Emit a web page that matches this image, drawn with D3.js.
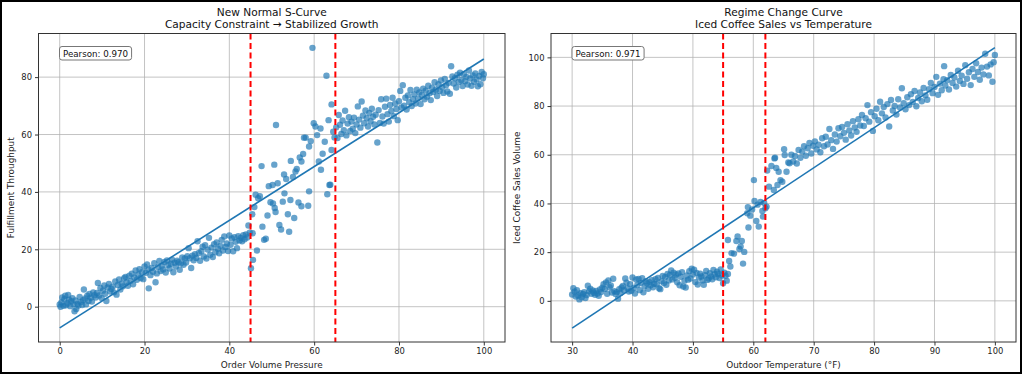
<!DOCTYPE html>
<html><head><meta charset="utf-8">
<script src="https://cdn.jsdelivr.net/npm/d3@7"></script>
<style>body{margin:0;background:#fff;} svg{display:block;font-family:"DejaVu Sans",sans-serif;}</style>
</head><body><svg id="c" width="1022" height="375"></svg>
<script>
// ---------- DATA ----------
const leftTitle = ["New Normal S-Curve", "Capacity Constraint \u2192 Stabilized Growth"];
const leftXLabel = "Order Volume Pressure";
const leftYLabel = "Fulfillment Throughput";
const leftPearson = "Pearson: 0.970";
const leftXTicks = [0, 20, 40, 60, 80, 100];
const leftYTicks = [0, 20, 40, 60, 80];
const leftBreaks = [45, 65];
const leftFit = [[0, -7.4], [100, 86.3]];
const leftPoints = [
[0.0,0.8],[0.2,0.0],[0.4,1.5],[0.6,3.2],[0.9,0.3],[1.1,2.6],[1.3,3.8],[1.5,0.5],[1.8,1.2],[2.0,4.1],
[2.2,2.4],[2.5,0.2],[2.7,1.9],[3.0,3.0],[3.2,0.9],[3.5,-1.6],[3.7,2.2],[3.9,-0.8],[4.2,1.0],[4.4,0.4],
[4.7,3.4],[5.0,1.6],[5.3,0.6],[5.5,2.3],[5.7,6.0],[6.0,2.9],[6.2,0.8],[6.5,3.8],[6.8,2.0],[7.0,4.4],
[7.3,3.1],[7.6,1.8],[7.9,5.0],[8.2,4.0],[8.5,3.2],[8.8,4.8],[9.0,8.3],[9.3,3.9],[9.6,6.5],[9.9,3.0],
[10.2,5.6],[10.5,7.4],[10.7,4.5],[11.0,2.0],[11.3,6.7],[11.6,7.9],[11.9,5.3],[12.2,6.2],[12.5,7.0],[12.8,5.0],
[13.1,8.8],[13.4,4.2],[13.7,7.6],[14.0,9.5],[14.3,6.0],[14.6,8.0],[14.9,7.1],[15.2,9.9],[15.5,10.4],[15.8,8.5],
[16.1,7.3],[16.4,10.8],[16.7,9.0],[17.0,11.5],[17.3,7.8],[17.6,10.2],[17.9,12.6],[18.2,9.4],[18.5,11.2],[18.8,13.1],
[19.1,10.0],[19.4,12.0],[19.7,9.6],[20.0,14.0],[20.3,11.8],[20.6,14.7],[20.9,12.9],[21.0,6.4],[21.4,11.0],[21.7,13.5],
[22.0,12.2],[22.3,15.2],[22.6,8.5],[22.9,11.6],[23.2,13.8],[23.5,15.9],[23.8,12.4],[24.1,14.3],[24.4,13.0],[24.7,15.6],
[25.0,11.9],[25.3,16.1],[25.6,14.5],[25.9,13.3],[26.2,15.0],[26.5,16.4],[26.8,12.0],[27.1,15.3],[27.4,14.0],[27.7,16.0],
[28.0,15.5],[28.3,12.9],[28.6,15.1],[28.9,17.2],[29.2,14.6],[29.5,16.8],[29.8,15.4],[30.1,17.6],[30.4,20.4],[30.7,16.9],
[31.0,13.5],[31.3,17.8],[31.6,16.2],[31.9,18.3],[32.2,17.0],[32.5,22.8],[32.8,18.7],[33.1,16.0],[33.4,19.3],[33.7,20.9],
[34.0,17.5],[34.3,21.4],[34.6,16.8],[34.9,19.9],[35.2,24.0],[35.5,18.1],[35.8,20.6],[36.1,17.3],[36.4,21.8],[36.7,19.0],
[37.0,22.4],[37.3,20.2],[37.6,18.6],[37.9,21.2],[38.2,23.3],[38.5,19.6],[38.8,24.5],[39.1,20.8],[39.4,22.0],[39.7,19.4],
[40.0,24.8],[40.3,21.6],[40.6,23.8],[40.9,19.3],[41.2,24.2],[41.5,22.6],[41.8,20.4],[42.1,24.6],[42.4,23.1],[42.7,24.0],
[43.0,22.8],[43.3,24.9],[43.6,23.5],[43.9,25.2],[44.2,24.1],[44.5,28.3],[44.8,25.8],
[45.1,13.4],[45.4,32.2],[45.5,25.6],[45.6,16.3],[45.9,34.7],[46.2,39.0],[46.5,19.6],[46.8,37.8],[47.2,38.5],[47.6,49.0],
[47.8,27.9],[48.2,23.3],[48.6,23.7],[49.0,31.8],[49.3,42.0],[49.7,36.4],[50.2,42.4],[50.3,36.0],[50.6,49.5],[50.7,34.4],
[50.9,33.0],[51.0,63.3],[51.4,43.0],[51.8,28.5],[52.2,26.9],[52.6,36.6],[52.9,46.1],[53.0,39.5],[53.4,44.5],[53.8,32.2],
[54.1,26.1],[54.4,37.2],[54.5,50.8],[55.0,45.2],[55.3,30.9],[55.6,47.1],[55.9,48.0],[56.3,36.3],[56.6,52.0],[57.0,50.6],
[57.0,35.0],[57.4,53.2],[57.6,58.9],[58.0,58.9],[58.6,35.2],[58.8,55.8],[58.8,40.2],[59.2,57.7],[59.6,90.2],[59.9,63.9],
[60.3,62.8],[60.7,59.8],[61.1,50.6],[61.5,62.1],[61.6,47.7],[62.0,53.3],[62.5,57.5],[62.9,80.5],[63.1,39.2],[63.4,65.0],
[63.6,42.4],[63.8,42.5],[64.1,54.6],[64.1,70.5],[64.5,61.0],[64.8,59.0],
[65.2,62.5],[65.5,58.8],[65.8,66.8],[66.1,63.4],[66.4,60.2],[66.7,64.9],[67.0,61.5],[67.3,68.3],[67.6,59.7],[67.9,63.8],
[68.2,66.0],[68.5,61.2],[68.8,64.5],[69.1,62.0],[69.4,65.9],[69.7,60.5],[70.0,63.5],[70.3,69.8],[70.6,65.2],[70.9,62.4],
[71.2,71.5],[71.5,66.6],[71.8,63.9],[72.1,68.4],[72.4,65.7],[72.7,62.8],[73.0,67.5],[73.3,64.6],[73.6,69.0],[73.9,66.2],
[74.2,63.5],[74.5,66.9],[74.9,57.2],[75.2,68.5],[75.5,64.0],[75.8,72.3],[76.1,66.3],[76.4,63.8],[76.7,69.7],[77.0,72.5],
[77.3,67.1],[77.6,64.5],[77.9,70.3],[78.2,68.2],[78.5,72.8],[78.8,66.4],[79.1,70.8],[79.4,68.9],[79.7,65.0],[80.0,71.6],
[80.3,75.2],[80.6,69.4],[80.9,77.2],[81.2,70.0],[81.5,72.8],[81.8,68.7],[82.1,73.6],[82.4,71.3],[82.7,75.5],[83.0,69.9],
[83.3,72.3],[83.6,74.0],[83.9,70.8],[84.2,75.6],[84.5,72.6],[84.8,74.7],[85.1,70.6],[85.4,73.8],[85.7,76.0],[86.0,72.3],
[86.3,75.3],[86.6,73.2],[86.9,77.0],[87.2,74.4],[87.5,72.0],[87.8,76.3],[88.1,74.8],[88.4,78.2],[88.7,75.6],[89.0,73.4],
[89.3,77.5],[89.6,75.2],[89.9,78.8],[90.2,76.5],[90.5,74.5],[90.8,79.4],[91.1,77.2],[91.4,75.0],[91.7,78.0],[92.0,74.2],
[92.3,83.8],[92.6,80.2],[92.9,77.8],[93.2,79.6],[93.5,76.4],[93.8,80.8],[94.1,78.3],[94.4,81.5],[94.7,79.0],[95.0,76.9],
[95.3,81.0],[95.6,78.6],[95.9,80.1],[96.2,77.4],[96.5,82.3],[96.8,79.5],[97.1,77.0],[97.4,80.6],[97.7,78.4],[98.0,81.3],
[98.3,79.2],[98.6,76.8],[98.9,80.4],[99.2,77.5],[99.5,81.8],[99.8,79.6],[100.0,81.0]
];

const rightTitle = ["Regime Change Curve", "Iced Coffee Sales vs Temperature"];
const rightXLabel = "Outdoor Temperature (\u00B0F)";
const rightYLabel = "Iced Coffee Sales Volume";
const rightPearson = "Pearson: 0.971";
const rightXTicks = [30, 40, 50, 60, 70, 80, 90, 100];
const rightYTicks = [0, 20, 40, 60, 80, 100];
const rightBreaks = [55, 62];
const rightFit = [[30, -11.2], [100, 104.0]];
const rightPoints = [
[30.0,2.6],[30.2,5.2],[30.4,3.8],[30.6,1.8],[30.8,4.4],[31.0,2.2],[31.2,0.6],[31.4,3.1],[31.6,1.5],[31.8,2.8],
[32.0,3.6],[32.2,1.2],[32.4,2.4],[32.6,6.2],[32.8,3.9],[33.0,5.0],[33.2,2.9],[33.4,4.3],[33.6,3.3],[33.8,2.5],
[34.0,4.1],[34.2,3.0],[34.4,2.1],[34.6,4.7],[34.8,3.6],[35.0,5.4],[35.2,6.8],[35.4,4.9],[35.6,7.6],[35.8,2.9],
[36.0,8.4],[36.2,5.6],[36.4,6.3],[36.6,3.4],[36.8,9.1],[37.0,4.0],[37.2,2.8],[37.4,3.6],[37.6,0.9],[37.8,4.8],
[38.0,3.2],[38.2,5.5],[38.4,6.1],[38.6,4.4],[38.8,9.2],[39.0,7.5],[39.2,5.2],[39.4,3.8],[39.6,6.8],[39.8,4.1],
[40.0,9.6],[40.2,5.3],[40.4,3.0],[40.6,8.8],[40.8,6.5],[41.0,9.0],[41.2,4.4],[41.4,7.4],[41.6,9.3],[41.8,3.5],
[42.0,6.0],[42.2,8.1],[42.4,7.2],[42.6,5.0],[42.8,7.7],[43.0,6.4],[43.2,8.5],[43.4,5.6],[43.6,7.0],[43.8,8.9],
[44.0,6.8],[44.2,9.4],[44.4,5.2],[44.6,4.8],[44.8,8.0],[45.0,10.2],[45.2,7.3],[45.4,9.8],[45.6,6.6],[45.8,11.0],
[46.0,8.4],[46.2,10.6],[46.4,12.5],[46.6,8.8],[46.8,11.6],[47.0,9.5],[47.2,10.8],[47.4,7.6],[47.6,11.3],[47.8,6.4],
[48.0,9.9],[48.2,11.8],[48.4,5.9],[48.6,8.3],[48.8,5.5],[49.0,10.4],[49.2,8.7],[49.4,12.2],[49.6,9.2],[49.8,13.2],
[50.0,10.8],[50.2,12.8],[50.4,7.7],[50.6,11.5],[50.8,6.7],[51.0,9.6],[51.2,11.2],[51.4,10.0],[51.6,8.4],[51.8,6.6],
[52.0,10.5],[52.2,12.3],[52.4,8.6],[52.6,9.2],[52.8,11.4],[53.0,10.0],[53.2,8.9],[53.4,12.7],[53.6,10.9],[53.8,9.7],
[54.0,12.0],[54.2,11.1],[54.4,9.4],[54.6,12.9],[54.8,10.4],[55.0,7.2],[55.2,11.6],[55.4,10.3],[55.6,8.3],[55.8,11.0],
[55.8,25.0],[56.0,16.4],[56.2,14.1],[56.4,19.6],[56.8,19.4],[57.2,24.6],[57.4,26.4],[57.7,21.3],[57.9,22.3],[58.1,24.6],
[58.3,15.3],[58.5,20.1],[59.0,36.0],[59.1,38.5],[59.2,30.1],[59.5,35.0],[59.8,37.5],[60.1,49.6],[60.2,41.0],[60.5,32.8],
[60.7,39.5],[60.9,30.5],[61.2,40.6],[61.5,36.9],[61.6,34.6],[61.8,40.2],[62.0,38.0],[62.2,38.7],
[62.6,46.9],[62.3,53.5],[63.0,55.4],[63.4,45.5],[63.5,58.5],[63.6,58.8],[63.8,54.6],[64.0,47.6],[64.2,53.0],[64.5,49.6],
[64.8,48.9],[65.1,62.3],[65.2,59.9],[65.5,53.0],[65.8,56.8],[66.0,56.5],[66.3,60.0],[66.6,57.2],[66.9,59.5],[67.2,56.4],
[67.5,62.0],[67.8,58.8],[68.1,61.3],[68.4,63.5],[68.7,59.6],[69.0,62.7],[69.3,64.8],[69.6,60.5],[69.9,63.7],[70.2,65.5],
[70.5,62.2],[70.8,64.1],[71.1,61.0],[71.4,66.8],[71.7,63.5],[72.0,67.4],[72.3,64.2],[72.6,70.6],[72.9,66.0],[73.2,62.4],
[73.5,68.3],[73.8,65.4],[74.1,70.9],[74.4,67.6],[74.7,71.4],[75.0,69.0],[75.3,66.2],[75.6,72.5],[75.9,70.0],[76.2,67.9],
[76.5,73.8],[76.8,71.2],[77.1,69.4],[77.4,74.6],[77.7,72.0],[78.0,76.3],[78.3,71.8],[78.6,75.0],[78.9,80.4],[79.2,73.6],
[79.5,77.5],[79.8,69.8],[80.1,75.8],[80.4,78.9],[80.7,74.2],[81.0,81.8],[81.3,77.0],[81.6,79.6],[81.9,75.3],[82.2,80.8],
[82.5,71.6],[82.8,82.5],[83.1,78.2],[83.4,80.0],[83.7,76.5],[84.0,82.8],[84.3,79.4],[84.6,87.3],[84.9,81.2],[85.2,78.7],
[85.5,83.6],[85.8,80.4],[86.1,84.9],[86.4,81.7],[86.7,86.2],[87.0,79.9],[87.3,83.3],[87.6,85.6],[87.9,82.0],[88.2,87.4],
[88.5,84.4],[88.8,82.6],[89.1,86.9],[89.4,89.5],[89.7,85.3],[90.0,87.8],[90.3,92.0],[90.6,84.6],[90.9,89.2],[91.2,86.5],
[91.5,91.0],[91.6,96.4],[91.8,88.4],[92.1,90.6],[92.4,86.8],[92.7,92.8],[93.0,89.5],[93.3,91.7],[93.6,88.0],[93.9,94.5],
[94.2,90.3],[94.5,92.5],[94.8,89.1],[95.1,96.8],[95.4,91.2],[95.7,93.9],[96.0,88.6],[96.3,95.2],[96.6,92.0],[96.9,97.6],
[97.2,94.0],[97.5,90.8],[97.8,95.8],[98.1,93.0],[98.4,101.5],[98.7,96.2],[99.0,92.6],[99.3,97.1],[99.6,90.0],[99.8,98.0],
[100.0,101.0]
];

// ---------- DRAW ----------
const svg = d3.select("#c");
svg.append("rect").attr("x",1).attr("y",1).attr("width",1020).attr("height",372)
  .attr("fill","#fff").attr("stroke","#000").attr("stroke-width",2);

const blue = "#1f77b4";

function panel(cfg){
  const {box, xDom, yDom, xTicks, yTicks, points, fit, breaks, title, xLabel, yLabel, pearson, yLabelX} = cfg;
  const x = d3.scaleLinear().domain(xDom).range([box.l, box.r]);
  const y = d3.scaleLinear().domain(yDom).range([box.b, box.t]);
  const g = svg.append("g");
  // grid
  g.append("g").selectAll("line").data(xTicks).join("line")
    .attr("x1",d=>x(d)).attr("x2",d=>x(d)).attr("y1",box.t).attr("y2",box.b)
    .attr("stroke","#b0b0b0").attr("stroke-opacity",0.75).attr("stroke-width",1);
  g.append("g").selectAll("line").data(yTicks).join("line")
    .attr("y1",d=>y(d)).attr("y2",d=>y(d)).attr("x1",box.l).attr("x2",box.r)
    .attr("stroke","#b0b0b0").attr("stroke-opacity",0.75).attr("stroke-width",1);
  // points
  g.append("g").selectAll("circle").data(points).join("circle")
    .attr("cx",d=>x(d[0])).attr("cy",d=>y(d[1])).attr("r",3.2)
    .attr("fill",blue).attr("fill-opacity",0.68);
  // fit line
  g.append("path").datum(fit)
    .attr("d", d3.line().x(d=>x(d[0])).y(d=>y(d[1])))
    .attr("stroke",blue).attr("stroke-width",1.6).attr("fill","none");
  // breaks
  g.append("g").selectAll("line").data(breaks).join("line")
    .attr("x1",d=>x(d)).attr("x2",d=>x(d)).attr("y1",box.t).attr("y2",box.b)
    .attr("stroke","#ff0000").attr("stroke-width",2).attr("stroke-dasharray","6,3.5");
  // axes
  const xa = g.append("g").attr("transform",`translate(0,${box.b})`)
    .call(d3.axisBottom(x).tickValues(xTicks).tickSize(3.5).tickPadding(3).tickFormat(d3.format("d")));
  const ya = g.append("g").attr("transform",`translate(${box.l},0)`)
    .call(d3.axisLeft(y).tickValues(yTicks).tickSize(3.5).tickPadding(3).tickFormat(d3.format("d")));
  [xa, ya].forEach(a=>{
    a.select(".domain").remove();
    a.selectAll("line").attr("stroke","#333");
    a.selectAll("text").attr("font-size",8.4).attr("fill","#222").attr("font-family","DejaVu Sans");
  });
  // frame
  g.append("rect").attr("x",box.l).attr("y",box.t).attr("width",box.r-box.l).attr("height",box.b-box.t)
    .attr("fill","none").attr("stroke","#333").attr("stroke-width",1);
  // title
  const cx = (box.l+box.r)/2;
  g.append("text").attr("x",cx).attr("y",15.5).attr("text-anchor","middle")
    .attr("font-size",10.6).attr("fill","#111").text(title[0]);
  g.append("text").attr("x",cx).attr("y",28.3).attr("text-anchor","middle")
    .attr("font-size",10.6).attr("fill","#111").text(title[1]);
  // axis labels
  g.append("text").attr("x",cx).attr("y",368).attr("text-anchor","middle")
    .attr("font-size",8.9).attr("fill","#222").text(xLabel);
  g.append("text").attr("transform",`translate(${yLabelX},${(box.t+box.b)/2}) rotate(-90)`)
    .attr("text-anchor","middle").attr("font-size",8.9).attr("fill","#222").text(yLabel);
  // pearson box
  const bx = box.l + 21, by = box.t + 13;
  const r = g.append("rect");
  const t = g.append("text").attr("x",bx+3.5).attr("y",by+10.3).attr("font-size",8.7).attr("fill","#111").text(pearson);
  const w = t.node().getComputedTextLength();
  r.attr("x",bx).attr("y",by).attr("width",w+7).attr("height",13.5)
    .attr("rx",2.5).attr("fill","#fff").attr("stroke","#777").attr("stroke-width",1);
}

panel({box:{l:38.5,r:505,t:33.5,b:342}, xDom:[-5,105], yDom:[-12.3,95.2], xTicks:leftXTicks, yTicks:leftYTicks,
  points:leftPoints, fit:leftFit, breaks:leftBreaks, title:leftTitle, xLabel:leftXLabel, yLabel:leftYLabel,
  pearson:leftPearson, yLabelX:14});
panel({box:{l:551,r:1016,t:33.5,b:342}, xDom:[26.5,103.5], yDom:[-16.9,109.8], xTicks:rightXTicks, yTicks:rightYTicks,
  points:rightPoints, fit:rightFit, breaks:rightBreaks, title:rightTitle, xLabel:rightXLabel, yLabel:rightYLabel,
  pearson:rightPearson, yLabelX:520});
</script></body></html>
